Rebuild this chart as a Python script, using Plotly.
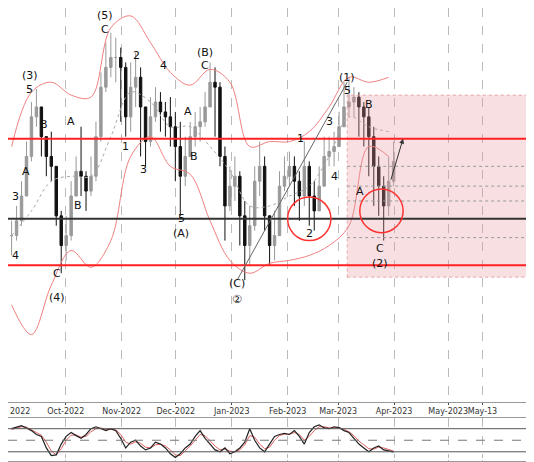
import plotly.graph_objects as go
import pandas as pd
from plotly.subplots import make_subplots

# daily-ish closes (every ~2.75 days), starting 2022-09-01
closes = [70, 85, 110, 150, 190, 200, 170, 150, 140, 90, 60, 70, 110, 135, 130, 115, 130, 170, 220, 240,
          250, 250, 240, 190, 220, 230, 200, 165, 190, 205, 195, 190, 180, 160, 130, 150, 170, 180, 185, 200,
          225, 220, 150, 100, 120, 130, 90, 60, 80, 125, 140, 90, 60, 70, 120, 130, 140, 125, 110, 140,
          110, 95, 120, 150, 155, 160, 180, 200, 205, 210, 200, 190, 170, 140, 120, 100, 125, 145]
highs = [85, 100, 125, 165, 205, 218, 185, 165, 175, 140, 95, 90, 125, 150, 180, 135, 150, 185, 235, 265,
         275, 270, 260, 245, 245, 255, 240, 185, 210, 220, 215, 205, 210, 195, 185, 170, 185, 195, 200, 215,
         245, 240, 225, 160, 140, 150, 135, 105, 100, 140, 165, 150, 80, 95, 135, 150, 155, 150, 135, 165,
         145, 125, 140, 170, 170, 175, 195, 225, 230, 220, 215, 205, 200, 180, 150, 130, 150, 165]
lows = [50, 65, 80, 115, 145, 180, 150, 130, 125, 80, 32, 45, 65, 115, 110, 95, 110, 125, 165, 215,
        230, 225, 185, 170, 175, 200, 150, 140, 160, 185, 175, 170, 160, 125, 90, 120, 150, 160, 165, 180,
        200, 170, 140, 65, 95, 105, 60, 25, 40, 75, 110, 75, 40, 45, 90, 115, 120, 100, 85, 100,
        80, 75, 95, 130, 140, 140, 160, 180, 190, 190, 170, 160, 130, 100, 90, 65, 90, 120]

band_upper = [160, 215, 225, 212, 210, 280, 292, 265, 235, 222, 238, 225, 160, 165, 165, 175, 200, 230, 225, 230]
band_lower = [0, -30, 20, 55, 38, 65, 150, 170, 140, 132, 85, 45, 32, 42, 45, 50, 60, 80, 160, 150]
band_mid = [70, 95, 125, 130, 130, 170, 215, 205, 180, 180, 160, 135, 100, 100, 110, 120, 150, 190, 180, 175]

stoch_k = [80, 85, 88, 82, 75, 65, 60, 30, 10, 12, 40, 60, 70, 62, 55, 65, 80, 85, 80, 75,
           80, 75, 55, 30, 45, 50, 35, 25, 30, 45, 40, 30, 15, 5, 15, 30, 40, 60, 75, 55,
           40, 25, 20, 30, 15, 20, 30, 45, 80, 50, 30, 20, 40, 60, 65, 68, 65, 75, 60, 40,
           70, 85, 90, 82, 80, 85, 83, 75, 70, 55, 40, 30, 20, 30, 35, 25, 22, 20]
stoch_d = [78, 82, 85, 84, 78, 70, 63, 45, 22, 12, 28, 50, 63, 64, 58, 60, 72, 80, 82, 78,
           78, 77, 65, 45, 40, 46, 42, 32, 30, 38, 40, 35, 25, 12, 10, 22, 35, 50, 65, 62,
           48, 35, 25, 27, 22, 20, 25, 38, 62, 58, 40, 28, 32, 50, 62, 66, 66, 70, 65, 50,
           60, 75, 85, 85, 82, 83, 83, 78, 72, 62, 48, 38, 28, 27, 32, 30, 25, 22]

dates = pd.date_range("2022-09-01", periods=len(closes), freq="66h")
band_dates = pd.date_range("2022-09-01", periods=len(band_upper), freq="11D")
opens = [closes[0]] + closes[:-1]

level_red = [168, 40]
level_black = 87
box_levels = [140, 120, 105, 68]

labels = [("2022-10-23", 292, "(5)"), ("2022-10-23", 278, "C"), ("2022-09-11", 232, "(3)"),
          ("2022-09-11", 218, "5"), ("2022-12-17", 255, "(B)"), ("2022-12-17", 242, "C"),
          ("2023-03-06", 230, "(1)"), ("2023-03-06", 217, "5"), ("2023-03-18", 203, "B"),
          ("2023-03-24", 57, "C"), ("2023-03-24", 42, "(2)"), ("2023-01-04", 22, "(C)"),
          ("2023-01-04", 5, "②"), ("2022-09-26", 32, "C"), ("2022-09-26", 7, "(4)"),
          ("2022-12-04", 87, "5"), ("2022-12-04", 72, "(A)"), ("2023-02-13", 72, "2"),
          ("2023-02-08", 168, "1"), ("2023-02-24", 185, "3"), ("2023-02-27", 130, "4"),
          ("2022-09-09", 135, "A"), ("2022-09-19", 182, "B"), ("2022-10-04", 185, "A"),
          ("2022-10-08", 100, "B"), ("2022-11-03", 160, "1"), ("2022-11-09", 252, "2"),
          ("2022-11-13", 137, "3"), ("2022-11-24", 242, "4"), ("2022-12-08", 195, "A"),
          ("2022-12-11", 150, "B"), ("2022-09-03", 50, "4"), ("2022-09-03", 110, "3"),
          ("2023-03-13", 115, "A")]

fig = make_subplots(rows=2, cols=1, shared_xaxes=True)

fig.add_trace(go.Scatter(x=band_dates, y=band_upper, mode="lines", line=dict(color="#f08080", width=1, shape="spline")), 1, 1)
fig.add_trace(go.Scatter(x=band_dates, y=band_lower, mode="lines", line=dict(color="#f08080", width=1, shape="spline")), 1, 1)
fig.add_trace(go.Scatter(x=band_dates, y=band_mid, mode="lines", line=dict(color="#aaaaaa", width=1, dash="dot", shape="spline")), 1, 1)
fig.add_trace(go.Candlestick(x=dates, open=opens, high=highs, low=lows, close=closes,
                             increasing=dict(line=dict(color="#999999", width=1), fillcolor="#999999"),
                             decreasing=dict(line=dict(color="#111111", width=1), fillcolor="#111111"),
                             whiskerwidth=0), 1, 1)
fig.add_trace(go.Scatter(x=dates, y=stoch_d, mode="lines", line=dict(color="#e06060", width=1)), 2, 1)
fig.add_trace(go.Scatter(x=dates, y=stoch_k, mode="lines", line=dict(color="#222222", width=1.2)), 2, 1)

# shaded target box
fig.add_shape(type="rect", x0="2023-03-06", x1="2023-06-30", y0=28, y1=212, fillcolor="rgba(230,150,160,0.3)",
              line=dict(color="rgba(220,120,130,0.6)", width=1, dash="dot"), row=1, col=1)
for lv in box_levels:
    fig.add_shape(type="line", x0="2023-03-06", x1="2023-06-30", y0=lv, y1=lv,
                  line=dict(color="#999999", width=1, dash="dot"), row=1, col=1)
for lv in level_red:
    fig.add_hline(y=lv, line=dict(color="#ff2020", width=2), row=1, col=1)
fig.add_hline(y=level_black, line=dict(color="#333333", width=2), row=1, col=1)
fig.add_shape(type="circle", x0="2023-02-01", x1="2023-02-25", y0=65, y1=109, line=dict(color="#ff3030", width=1.5), row=1, col=1)
fig.add_shape(type="circle", x0="2023-03-13", x1="2023-04-06", y0=73, y1=117, line=dict(color="#ff3030", width=1.5), row=1, col=1)
fig.add_shape(type="line", x0="2023-01-04", x1="2023-03-06", y0=25, y1=225, line=dict(color="#666666", width=1), row=1, col=1)
fig.add_annotation(x="2023-04-06", y=168, ax="2023-03-30", ay=125, xref="x", yref="y", axref="x", ayref="y",
                   showarrow=True, arrowhead=2, arrowwidth=1, arrowcolor="#333333", text="")

for lv in [80, 20]:
    fig.add_hline(y=lv, line=dict(color="#555555", width=1), row=2, col=1)
fig.add_hline(y=50, line=dict(color="#777777", width=1, dash="dash"), row=2, col=1)

for d, v, t in labels:
    fig.add_annotation(x=d, y=v, text=t, showarrow=False, font=dict(size=11, color="#111111"), xref="x", yref="y")

# first month label is clipped at the left edge in the original
fig.add_annotation(x=0, y=0.14, xref="paper", yref="paper", text="2022", showarrow=False,
                   xanchor="left", yanchor="top", yshift=-3, font=dict(size=8, color="#333"))

ticks = ["2022-10-01", "2022-11-01", "2022-12-01", "2023-01-01", "2023-02-01",
         "2023-03-01", "2023-04-01", "2023-05-01", "2023-05-20"]
tick_text = ["Oct-2022", "Nov-2022", "Dec-2022", "Jan-2023", "Feb-2023",
             "Mar-2023", "Apr-2023", "May-2023", "May-13"]

fig.update_layout(width=534, height=462, margin=dict(l=0, r=0, t=0, b=4), showlegend=False,
                  plot_bgcolor="white", paper_bgcolor="white", font=dict(family="DejaVu Sans", size=8, color="#333"),
                  yaxis=dict(domain=[0.14, 1]), yaxis2=dict(domain=[0.01, 0.105]))
fig.update_xaxes(range=["2022-08-30", "2023-06-22"], tickvals=ticks, ticktext=tick_text, showgrid=True,
                 gridcolor="#bbbbbb", griddash="dash", gridwidth=1, rangeslider_visible=False,
                 showline=True, linecolor="#999", mirror=True, tickangle=0)
fig.update_xaxes(showticklabels=True, ticks="outside", ticklen=2, row=1, col=1)
fig.update_xaxes(showticklabels=False, row=2, col=1)
fig.update_yaxes(range=[-98, 300], showticklabels=False, showgrid=False, showline=True, linecolor="#999", mirror=True, row=1, col=1)
fig.update_yaxes(range=[-5, 108], showticklabels=False, showgrid=False, showline=True, linecolor="#999", mirror=True, row=2, col=1)

fig.write_html("out.html")
